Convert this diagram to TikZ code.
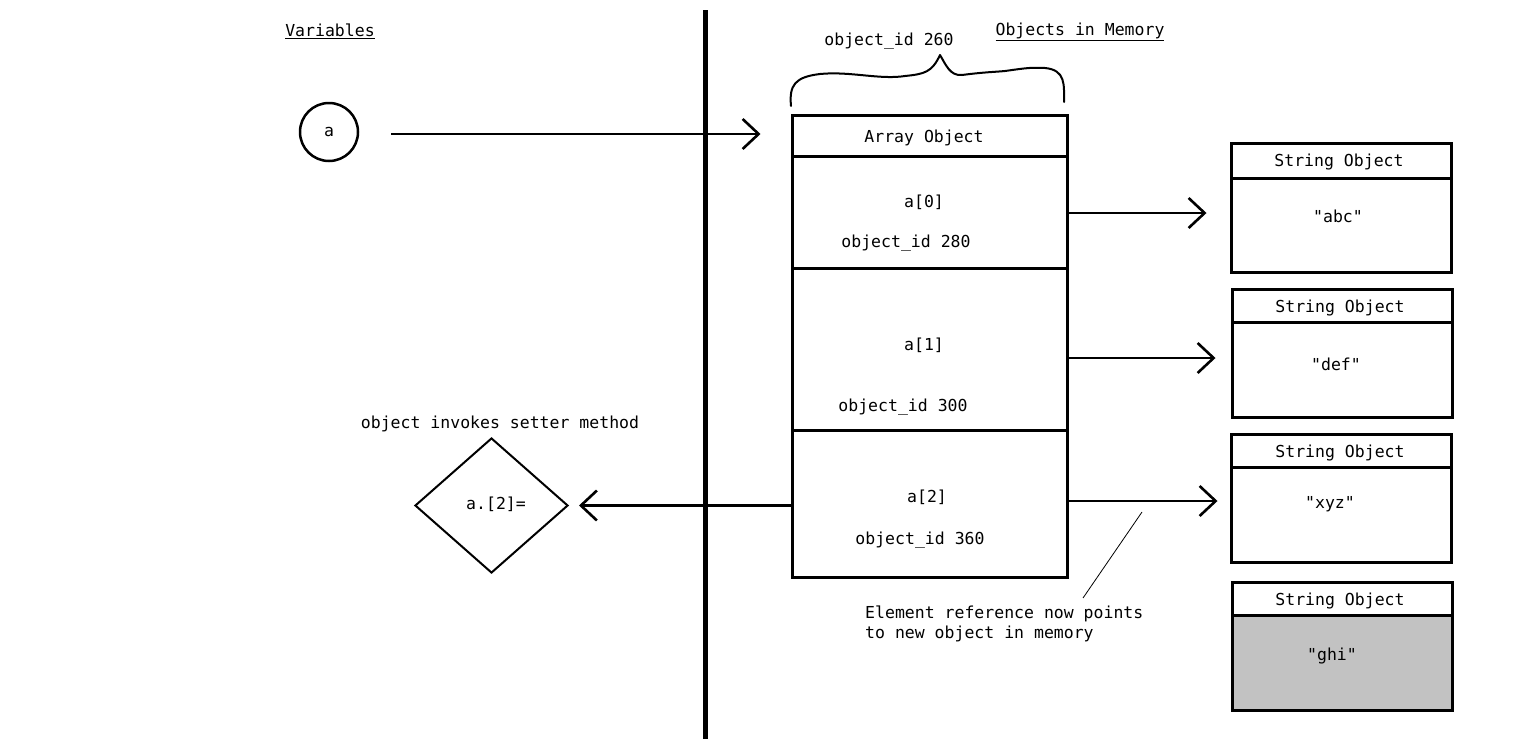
\documentclass[tikz,border=0pt]{standalone}
\usepackage{fontspec}
\setmonofont{DejaVu Sans Mono}
\usetikzlibrary{arrows.meta,shapes.geometric}
\begin{document}
\begin{tikzpicture}[x=1pt,y=-1pt,
  every node/.style={font=\ttfamily\fontsize{16.5}{20}\selectfont},
  lbl/.style={inner sep=0pt,yshift=-1.5pt},
  cell/.style={draw,line width=3pt,minimum width=275pt,inner sep=0pt},
  sbox/.style={draw,line width=3pt,minimum width=220pt,inner sep=0pt},
  arr/.style={line width=2.6pt,-{Straight Barb[length=16pt,width=30pt]}}]
\useasboundingbox (0,0) rectangle (1536,739);
% divider
\coordinate (vt) at (705,10);
\coordinate (vb) at (705,739);
\draw[line width=5pt] (vt) -- (vb);
% headings
\node[lbl] (hvar) at (330,30) {\underline{Variables}};
\node[lbl] (hobj) at (1080,30) {\underline{Objects in Memory}};
% variable
\node[draw,circle,line width=2.5pt,minimum size=58pt,inner sep=0pt] (a) at (329,132) {a};
% array object
\node[cell,minimum height=41pt] (hdr) at (929.5,135.5) {};
\node[cell,minimum height=112pt] (c0) at (929.5,212) {};
\node[cell,minimum height=162pt] (c1) at (929.5,349) {};
\node[cell,minimum height=147pt] (c2) at (929.5,503.5) {};
\node[lbl] (thdr) at (924,136) {Array Object};
\node[lbl] (t0a) at (924,201) {a[0]};
\node[lbl] (t0b) at (906,242) {object\_id 280};
\node[lbl] (t1a) at (924,344) {a[1]};
\node[lbl] (t1b) at (903,406) {object\_id 300};
\node[lbl] (t2a) at (927,496) {a[2]};
\node[lbl] (t2b) at (920,539) {object\_id 360};
% brace
\node[lbl] (bl) at (889,40) {object\_id 260};
\coordinate (brL) at (791,106);
\coordinate (brT) at (940,55);
\coordinate (brR) at (1064,102);
\draw[line width=2pt,line cap=round,line join=round] (brL)
  .. controls (789,85) and (795,77) .. (820,74)
  .. controls (850,71) and (880,80) .. (905,76)
  .. controls (925,74) and (932,72) .. (brT)
  .. controls (946,65) and (950,76) .. (962,75)
  .. controls (985,72) and (995,72) .. (1005,71)
  .. controls (1020,69) and (1030,67) .. (1045,68)
  .. controls (1066,70) and (1064,85) .. (brR);
% string objects
\node[sbox,minimum height=35pt] (s1h) at (1341,160.5) {};
\node[sbox,minimum height=94pt] (s1b) at (1341,225) {};
\node[sbox,minimum height=33pt] (s2h) at (1342,305.5) {};
\node[sbox,minimum height=95pt] (s2b) at (1342,369.5) {};
\node[sbox,minimum height=33pt] (s3h) at (1341,450.5) {};
\node[sbox,minimum height=95pt] (s3b) at (1341,514.5) {};
\node[sbox,minimum height=33pt] (s4h) at (1342,598.5) {};
\node[sbox,minimum height=95pt,fill=black!24] (s4b) at (1342,662.5) {};
\node[lbl] at (1339,161) {String Object};
\node[lbl] at (1340,306) {String Object};
\node[lbl] at (1340,451) {String Object};
\node[lbl] at (1340,599) {String Object};
\node[lbl] at (1338,215) {"abc"};
\node[lbl] at (1336,363) {"def"};
\node[lbl] at (1330,503) {"xyz"};
\node[lbl] at (1332,654) {"ghi"};
% setter diamond
\node[draw,diamond,aspect=1.13,minimum width=153pt,minimum height=135pt,inner sep=0pt,line width=2pt] (d) at (491.5,505.5) {};
\node[lbl] (dt) at (496,503) {a.[2]=};
\node[lbl] (dl) at (500,422) {object invokes setter method};
% arrows
\coordinate (ea) at (391,134);
\draw[arr,shorten >=30pt] (ea) -- (ea -| hdr.west);
\coordinate (e0) at (1069,213);
\coordinate (e1) at (1069,358);
\coordinate (e2) at (1069,501);
\draw[arr,shorten >=23pt] (e0) -- (e0 -| s1b.west);
\draw[arr,shorten >=15pt] (e1) -- (e1 -| s2b.west);
\draw[arr,shorten >=12pt] (e2) -- (e2 -| s3b.west);
\draw[arr,shorten >=10pt] (c2.west |- d.east) -- (d.east);
% note
\coordinate (n1) at (1142,512);
\coordinate (n2) at (1083,598);
\draw[line width=0.8pt] (n1) -- (n2);
\node[lbl,anchor=west,align=left] (note) at (865,622) {Element reference now points\\to new object in memory};
\end{tikzpicture}
\end{document}
